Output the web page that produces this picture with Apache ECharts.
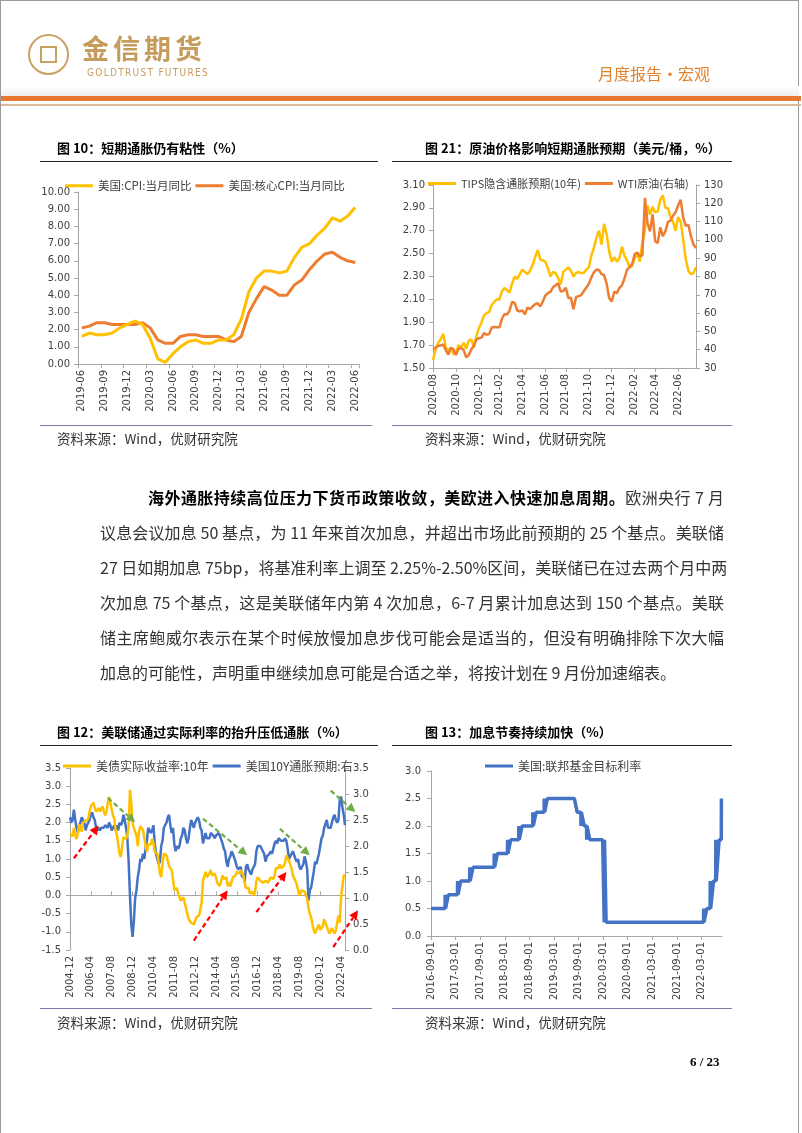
<!DOCTYPE html>
<html lang="zh-CN">
<head>
<meta charset="utf-8">
<script src="https://cdn.jsdelivr.net/npm/echarts@6/dist/echarts.min.js"></script>
<style>
html,body{margin:0;padding:0;background:#fff;}
body{width:802px;height:1133px;position:relative;overflow:hidden;font-family:"Noto Sans CJK SC",sans-serif;}
#chart{position:absolute;left:0;top:0;width:802px;height:1133px;}
.abs{position:absolute;white-space:nowrap;}
.title{font-size:13px;font-weight:bold;color:#000;line-height:18px;}
.src{font-size:13.5px;color:#333;line-height:18px;}
.hl{position:absolute;height:1px;background:#222;}
.sep{position:absolute;height:1px;background:#7a7aa8;}
.para{position:absolute;left:100px;width:624px;font-size:16px;line-height:22px;color:#333;text-align:justify;text-align-last:justify;white-space:nowrap;}
</style>
</head>
<body>
<div id="chart"></div>

<!-- page frame -->
<div class="abs" style="left:0;top:0;width:799px;height:1133px;border-left:1px solid #9a9a9a;border-right:1px solid #9a9a9a;border-top:1px solid #9a9a9a;box-sizing:border-box;"></div>

<!-- header -->
<div class="abs" style="left:28px;top:34px;width:41px;height:41px;border:2.5px solid #C9A260;border-radius:50%;box-sizing:border-box;"></div>
<div class="abs" style="left:40px;top:46px;width:17px;height:17px;border:2px solid #C9A260;box-sizing:border-box;"></div>
<div class="abs" style="left:82px;top:32px;font-size:27px;font-weight:bold;color:#C69C5D;letter-spacing:4px;line-height:32px;">金信期货</div>
<div class="abs" style="left:87px;top:67px;font-family:'DejaVu Sans Condensed','DejaVu Sans';font-size:10px;color:#C69C5D;letter-spacing:1.3px;line-height:12px;">GOLDTRUST FUTURES</div>
<div class="abs" style="left:598px;top:63px;font-size:16px;color:#E3822E;line-height:20px;">月度报告·宏观</div>
<div class="abs" style="left:1px;top:86px;width:798px;height:10px;background:linear-gradient(#ffffff,#eeeeee);"></div>
<div class="abs" style="left:1px;top:96px;width:800px;height:5px;background:#E9782F;"></div>
<div class="abs" style="left:1px;top:104px;width:800px;height:1.5px;background:#DDB996;"></div>

<!-- figure titles row 1 -->
<div class="abs title" style="left:57px;top:139px;">图 10：短期通胀仍有粘性（%）</div>
<div class="hl" style="left:40px;top:161px;width:338px;"></div>
<div class="abs title" style="left:425px;top:139px;">图 21：原油价格影响短期通胀预期（美元/桶，%）</div>
<div class="hl" style="left:392px;top:161px;width:340px;"></div>
<div class="sep" style="left:40px;top:425px;width:332px;"></div>
<div class="abs src" style="left:57px;top:429px;">资料来源：Wind，优财研究院</div>
<div class="sep" style="left:392px;top:425px;width:340px;"></div>
<div class="abs src" style="left:425px;top:429px;">资料来源：Wind，优财研究院</div>

<!-- paragraph -->
<div class="para" style="left:148px;width:576px;top:486px;"><b style="color:#000">海外通胀持续高位压力下货币政策收敛，美欧进入快速加息周期。</b>欧洲央行 7 月</div>
<div class="para" style="top:521px;">议息会议加息 50 基点，为 11 年来首次加息，并超出市场此前预期的 25 个基点。美联储</div>
<div class="para" style="top:556px;">27 日如期加息 75bp，将基准利率上调至 2.25%-2.50%区间，美联储已在过去两个月中两</div>
<div class="para" style="top:591px;">次加息 75 个基点，这是美联储年内第 4 次加息，6-7 月累计加息达到 150 个基点。美联</div>
<div class="para" style="top:626px;">储主席鲍威尔表示在某个时候放慢加息步伐可能会是适当的，但没有明确排除下次大幅</div>
<div class="para" style="top:661px;text-align:left;text-align-last:left;">加息的可能性，声明重申继续加息可能是合适之举，将按计划在 9 月份加速缩表。</div>

<!-- figure titles row 2 -->
<div class="abs title" style="left:57px;top:723px;">图 12：美联储通过实际利率的抬升压低通胀（%）</div>
<div class="hl" style="left:40px;top:745px;width:338px;"></div>
<div class="abs title" style="left:425px;top:723px;">图 13：加息节奏持续加快（%）</div>
<div class="hl" style="left:392px;top:745px;width:340px;"></div>
<div class="sep" style="left:40px;top:1008px;width:332px;"></div>
<div class="abs src" style="left:57px;top:1013px;">资料来源：Wind，优财研究院</div>
<div class="sep" style="left:392px;top:1008px;width:340px;"></div>
<div class="abs src" style="left:425px;top:1013px;">资料来源：Wind，优财研究院</div>

<div class="abs" style="left:690px;top:1054px;font-family:'Liberation Serif',serif;font-weight:bold;font-size:13px;color:#000;">6 / 23</div>

<script>
// ---------------- Figure 10 data ----------------
const cpiMonths = ['2019-06','2019-07','2019-08','2019-09','2019-10','2019-11','2019-12',
  '2020-01','2020-02','2020-03','2020-04','2020-05','2020-06','2020-07','2020-08','2020-09','2020-10','2020-11','2020-12',
  '2021-01','2021-02','2021-03','2021-04','2021-05','2021-06','2021-07','2021-08','2021-09','2021-10','2021-11','2021-12',
  '2022-01','2022-02','2022-03','2022-04','2022-05','2022-06'];
const cpiHeadline = [1.6,1.8,1.7,1.7,1.8,2.1,2.3,
  2.5,2.3,1.5,0.3,0.1,0.6,1.0,1.3,1.4,1.2,1.2,1.4,
  1.4,1.7,2.6,4.2,5.0,5.4,5.4,5.3,5.4,6.2,6.8,7.0,
  7.5,7.9,8.5,8.3,8.6,9.1];
const cpiCore = [2.1,2.2,2.4,2.4,2.3,2.3,2.3,
  2.3,2.4,2.1,1.4,1.2,1.2,1.6,1.7,1.7,1.6,1.6,1.6,
  1.4,1.3,1.6,3.0,3.8,4.5,4.3,4.0,4.0,4.6,4.9,5.5,
  6.0,6.4,6.5,6.2,6.0,5.9];

// ---------------- Figure 21 data (weekly) ----------------
const oilWeekStart = '2020-08-03';
const tipsBreakeven = [
  1.57,1.66,1.72,1.75,1.80, 1.68,1.65,1.68,1.62, 1.63,1.70,1.68,1.72,1.67, 1.74,1.75,1.68,1.78, 1.85,1.90,1.96,1.98,
  1.99,2.05,2.08,2.10,2.10, 2.17,2.20,2.18,2.16, 2.24,2.30,2.28,2.32, 2.36,2.34,2.32,2.35,2.40,
  2.47,2.53,2.45,2.44, 2.43,2.37,2.30,2.34, 2.33,2.29,2.23,2.34,2.36, 2.38,2.35,2.30,2.33,
  2.34,2.33,2.33,2.36, 2.38,2.48,2.55,2.64,2.70, 2.58,2.76,2.67,2.52, 2.43,2.47,2.43,2.46,2.56,
  2.48,2.44,2.38,2.39, 2.46,2.50,2.43,2.60, 2.70,2.92,2.84,2.91, 2.86,2.87,2.97,3.01,2.90,
  2.90,2.82,2.78,2.70, 2.82,2.78,2.62,2.45, 2.35,2.32,2.33,2.38];
const wtiPrice = [
  40.3,41.2,42.0,42.3,42.9, 39.8,37.3,41.1,40.2, 37.1,40.6,40.9,39.9,35.8, 37.1,40.1,42.2,45.5, 46.3,46.6,49.1,48.2,
  48.5,52.2,52.4,52.3,52.2, 56.9,59.5,59.2,61.5, 66.1,65.6,61.4,60.9, 61.5,59.3,63.1,62.1,63.6,
  64.9,65.4,63.6,66.3, 69.6,70.9,71.6,74.1, 75.2,76.4,71.8,72.1,73.9, 68.3,68.4,62.1,68.7,
  69.3,69.7,71.9,73.9, 75.9,79.4,82.3,83.8,83.6, 81.3,80.8,76.1,68.2, 66.3,71.7,70.9,73.8,75.2,
  78.9,83.8,85.1,86.8, 92.3,93.1,91.1,91.6, 123.0,109.3,104.7,113.9, 99.3,98.3,106.9,102.1,104.7,
  109.8,110.5,113.2,115.1, 118.9,122.0,112.0,107.6, 108.4,102.0,97.6,95.5];

// ---------------- Figure 12 data (monthly from 2004-12) ----------------
const ryStartMonth = '2004-12';
const realYield10y = [1.70,
  1.68,1.62,1.85,1.65,1.55,1.70,1.95,1.85,1.75,2.00,2.05,2.05,
  2.00,2.10,2.30,2.45,2.50,2.55,2.40,2.30,2.35,2.40,2.30,2.35,
  2.45,2.30,2.20,2.30,2.55,2.70,2.55,2.35,2.20,2.10,1.80,1.65,
  1.40,1.15,1.05,1.35,1.60,1.55,1.55,1.65,1.90,2.90,2.55,2.00,
  1.85,1.85,1.65,1.35,1.75,1.90,1.85,1.80,1.60,1.35,1.20,1.40,
  1.35,1.40,1.55,1.45,1.20,1.25,1.15,0.90,0.60,0.50,0.85,1.15,
  1.20,1.10,0.95,0.80,0.75,0.70,0.45,0.15,0.10,0.20,0.05,-0.05,
  -0.15,-0.20,-0.05,-0.20,-0.35,-0.50,-0.65,-0.70,-0.75,-0.70,-0.80,-0.70,
  -0.60,-0.60,-0.55,-0.60,-0.20,0.40,0.45,0.65,0.50,0.45,0.60,0.70,
  0.55,0.50,0.60,0.50,0.35,0.35,0.25,0.25,0.55,0.45,0.40,0.50,
  0.25,0.35,0.25,0.30,0.50,0.55,0.55,0.65,0.65,0.60,0.70,0.75,
  0.55,0.35,0.20,0.20,0.20,0.05,0.05,0.10,0.00,0.10,0.40,0.50,
  0.45,0.40,0.45,0.35,0.40,0.40,0.45,0.35,0.35,0.50,0.50,0.45,
  0.55,0.75,0.75,0.75,0.85,0.75,0.75,0.80,0.90,1.10,1.10,0.95,
  0.90,0.75,0.55,0.60,0.40,0.30,0.25,0.00,0.05,0.15,0.15,0.10,
  0.05,-0.10,-0.35,-0.50,-0.60,-0.80,-0.95,-1.05,-0.95,-0.90,-0.80,-0.95,
  -1.00,-0.85,-0.65,-0.70,-0.85,-0.85,-1.05,-1.05,-0.90,-0.95,-1.05,-0.95,
  -0.75,-0.55,-0.75,-0.05,0.25,0.55,0.55];
const breakeven10y = [2.55,
  2.45,2.50,2.70,2.50,2.35,2.25,2.40,2.45,2.55,2.55,2.45,2.30,
  2.40,2.45,2.50,2.60,2.65,2.55,2.50,2.35,2.30,2.35,2.30,2.35,
  2.35,2.35,2.40,2.40,2.35,2.45,2.40,2.30,2.35,2.40,2.30,2.40,
  2.30,2.45,2.40,2.45,2.60,2.50,2.35,2.15,1.70,1.05,0.50,0.25,
  0.55,1.00,1.15,1.40,1.55,1.75,1.70,1.85,1.75,1.95,2.10,2.35,
  2.35,2.25,2.30,2.40,2.05,1.85,1.75,1.65,1.70,2.00,2.10,2.35,
  2.35,2.45,2.55,2.60,2.40,2.25,2.35,2.05,1.90,2.00,1.95,2.00,
  2.15,2.20,2.35,2.30,2.15,2.05,2.15,2.35,2.50,2.50,2.35,2.45,
  2.50,2.55,2.50,2.35,2.30,2.05,2.15,2.25,2.15,2.15,2.15,2.25,
  2.25,2.20,2.15,2.20,2.20,2.25,2.20,2.20,2.05,1.95,1.90,1.70,
  1.60,1.75,1.80,1.90,1.85,1.85,1.70,1.60,1.55,1.55,1.60,1.40,
  1.45,1.30,1.60,1.65,1.55,1.50,1.45,1.55,1.55,1.65,1.90,2.00,
  2.00,2.00,2.00,1.90,1.85,1.70,1.80,1.80,1.85,1.90,1.85,1.95,
  2.05,2.10,2.05,2.15,2.15,2.10,2.10,2.10,2.15,2.10,1.95,1.75,
  1.75,1.85,1.90,1.90,1.75,1.70,1.75,1.60,1.55,1.60,1.65,1.80,
  1.70,1.55,0.95,1.15,1.20,1.35,1.50,1.70,1.65,1.75,1.85,2.00,
  2.15,2.20,2.35,2.35,2.50,2.35,2.35,2.35,2.35,2.55,2.60,2.50,
  2.45,2.50,2.90,2.95,2.75,2.60,2.40];
// annotation arrows: [from month, from value(left axis), to month, to value]
const redArrows = [['2005-03',1.02,'2006-10',1.92],['2012-11',-1.24,'2015-01',0.14],
                   ['2016-11',-0.46,'2018-10',0.64],['2021-10',-1.42,'2023-05',-0.41]];
const greenArrows = [['2007-05',2.68,'2009-02',2.01],['2013-06',2.11,'2016-04',1.10],
                     ['2018-05',1.83,'2020-04',1.10],['2021-08',2.88,'2023-03',2.29]];

// ---------------- Figure 13 data ----------------
const fedTickLabels = ['2016-09-01','2017-03-01','2017-09-01','2018-03-01','2018-09-01','2019-03-01',
  '2019-09-01','2020-03-01','2020-09-01','2021-03-01','2021-09-01','2022-03-01'];
const fedRate = [
  ['2016-09-01',0.5],
  ['2016-12-14',0.5],['2016-12-15',0.75],['2016-12-18',0.5],['2017-01-08',0.75],
  ['2017-03-15',0.75],['2017-03-16',1.0],['2017-03-19',0.75],['2017-04-09',1.0],
  ['2017-06-14',1.0],['2017-06-15',1.25],['2017-06-18',1.0],['2017-07-09',1.25],
  ['2017-12-13',1.25],['2017-12-14',1.5],['2017-12-17',1.25],['2018-01-07',1.5],
  ['2018-03-21',1.5],['2018-03-22',1.75],['2018-03-25',1.5],['2018-04-15',1.75],
  ['2018-06-13',1.75],['2018-06-14',2.0],['2018-06-17',1.75],['2018-07-08',2.0],
  ['2018-09-26',2.0],['2018-09-27',2.25],['2018-09-30',2.0],['2018-10-21',2.25],
  ['2018-12-19',2.25],['2018-12-20',2.5],['2018-12-23',2.25],['2019-01-13',2.5],
  ['2019-07-31',2.5],['2019-08-21',2.25],
  ['2019-09-18',2.25],['2019-09-19',2.0],['2019-09-22',2.25],['2019-10-13',2.0],
  ['2019-10-30',2.0],['2019-10-31',1.75],['2019-11-03',2.0],['2019-11-24',1.75],
  ['2020-02-28',1.75],['2020-03-09',0.25],['2020-03-11',1.75],['2020-03-23',0.25],
  ['2022-03-16',0.25],['2022-03-17',0.5],['2022-03-20',0.25],['2022-04-10',0.5],
  ['2022-05-04',0.5],['2022-05-05',1.0],['2022-05-08',0.5],['2022-05-29',1.0],
  ['2022-06-15',1.0],['2022-06-16',1.75],['2022-06-19',1.0],['2022-07-10',1.75],
  ['2022-07-26',1.75],['2022-07-27',2.5]];

// ---------------- helpers ----------------
function pad(n){return (n<10?'0':'')+n;}
function weekDates(start, n){
  const [y,m,d] = start.split('-').map(Number); const t0 = Date.UTC(y,m-1,d); const out=[];
  for(let i=0;i<n;i++){const dt=new Date(t0+i*7*864e5); out.push(dt.getUTCFullYear()+'-'+pad(dt.getUTCMonth()+1)+'-'+pad(dt.getUTCDate()));}
  return out;
}
function monthsFrom(start, n){
  let [y,m] = start.split('-').map(Number); const out=[];
  for(let i=0;i<n;i++){out.push(y+'-'+pad(m)); m++; if(m>12){m=1;y++;}}
  return out;
}
function monthIndex(s, start){const [y,m]=s.split('-').map(Number); const [y0,m0]=start.split('-').map(Number); return (y-y0)*12+(m-m0);}
function fedOffset(s){const [y,m,d]=s.split('-').map(Number); return (y-2016)*12+(m-9)+(d-1)/30.44;}

const oilWeeks = weekDates(oilWeekStart, tipsBreakeven.length);
const ryMonths = monthsFrom(ryStartMonth, realYield10y.length);
const fedTickVals = fedTickLabels.map((_,i)=>i*6);

const GRAY = '#A6A6A6';
const LBL = {fontFamily:'DejaVu Sans', fontSize:10, color:'#404040'};
const lineAx = {show:true, onZero:false, lineStyle:{color:GRAY, width:1}};
const tickOut = {show:true, length:4, lineStyle:{color:GRAY}};
const legendText = {fontFamily:'Noto Sans CJK SC', fontSize:12, color:'#404040'};
function leg(data, left, top, gap, fs){
  return {data, left, top, padding:0, itemGap:gap, itemWidth:28, itemHeight:3, icon:'rect',
    selectedMode:false, width:400, textStyle:Object.assign({}, legendText, {fontSize:fs})};
}
function valAxis(grid, pos, min, max, interval, dec, margin){
  return {type:'value', gridIndex:grid, position:pos, min, max, interval,
    axisLine:{show:true, onZero:false, lineStyle:{color:GRAY, width:1}}, axisTick:tickOut,
    splitLine:{show:false},
    axisLabel:Object.assign({}, LBL, {margin, formatter:v=>v.toFixed(dec)})};
}

const chart = echarts.init(document.getElementById('chart'), null, {renderer:'canvas'});
const option = {
  animation:false,
  backgroundColor:'transparent',
  grid:[
    {left:78, right:443, top:192, bottom:769, containLabel:false, outerBoundsMode:'none'},
    {left:433, right:106, top:185, bottom:765, containLabel:false, outerBoundsMode:'none'},
    {left:70, right:457, top:768, bottom:183, containLabel:false, outerBoundsMode:'none'},
    {left:431, right:80, top:771, bottom:197, containLabel:false, outerBoundsMode:'none'}
  ],
  legend:[
    leg(['美国:CPI:当月同比','美国:核心CPI:当月同比'], 65, 180, 4, 11.5),
    leg(['TIPS隐含通胀预期(10年)','WTI原油(右轴)'], 428, 178, 4, 11),
    leg(['美债实际收益率:10年','美国10Y通胀预期:右'], 63, 760, 4, 12),
    leg(['美国:联邦基金目标利率'], 485, 760, 5, 12)
  ],
  xAxis:[
    {type:'category', gridIndex:0, data:cpiMonths, boundaryGap:true, axisLine:lineAx,
     axisTick:{show:true, interval:2, length:4, lineStyle:{color:GRAY}},
     axisLabel:Object.assign({}, LBL, {interval:2, rotate:90, margin:6})},
    {type:'category', gridIndex:1, data:oilWeeks, boundaryGap:false, axisLine:lineAx,
     axisTick:{show:true, length:4, lineStyle:{color:GRAY}, interval:(i,v)=>{const m=+v.slice(5,7),d=+v.slice(8,10);return m%2===0&&d<=7;}},
     axisLabel:Object.assign({}, LBL, {rotate:90, margin:6,
       interval:(i,v)=>{const m=+v.slice(5,7),d=+v.slice(8,10);return m%2===0&&d<=7;},
       formatter:v=>v.slice(0,7)})},
    {type:'category', gridIndex:2, data:ryMonths, boundaryGap:false,
     axisLine:{show:false, onZero:false}, axisTick:{show:false},
     axisLabel:Object.assign({}, LBL, {interval:15, rotate:90, margin:6})},
    {type:'category', gridIndex:2, data:ryMonths, boundaryGap:false,
     axisLine:{show:true, onZero:true, onZeroAxisIndex:3, lineStyle:{color:GRAY, width:1}},
     axisTick:{show:true, interval:15, length:4, lineStyle:{color:GRAY}},
     axisLabel:{show:false}},
    {type:'value', gridIndex:3, min:0, max:71, interval:6, axisLine:lineAx, splitLine:{show:false},
     axisTick:{show:true, length:4, lineStyle:{color:GRAY}, customValues:fedTickVals},
     axisLabel:Object.assign({}, LBL, {rotate:90, margin:6, customValues:fedTickVals,
       formatter:v=>{const k=Math.round(v/6); return (Math.abs(v-k*6)<1e-6 && fedTickLabels[k])?fedTickLabels[k]:'';}})}
  ],
  yAxis:[
    valAxis(0,'left',0,10,1,2,8),
    valAxis(1,'left',1.5,3.1,0.2,2,8),
    valAxis(1,'right',30,130,10,0,8),
    valAxis(2,'left',-1.5,3.5,0.5,1,9),
    valAxis(2,'right',0,3.5,0.5,1,8),
    valAxis(3,'left',0,3,0.5,1,10)
  ],
  series:[
    {name:'美国:CPI:当月同比', type:'line', xAxisIndex:0, yAxisIndex:0, data:cpiHeadline, symbol:'none',
     color:'#FFC000', lineStyle:{color:'#FFC000', width:3}, z:3},
    {name:'美国:核心CPI:当月同比', type:'line', xAxisIndex:0, yAxisIndex:0, data:cpiCore, symbol:'none',
     color:'#ED7D31', lineStyle:{color:'#ED7D31', width:3}, z:2},
    {name:'TIPS隐含通胀预期(10年)', type:'line', xAxisIndex:1, yAxisIndex:1, data:tipsBreakeven, symbol:'none',
     color:'#FFC000', lineStyle:{color:'#FFC000', width:2.5}, z:2},
    {name:'WTI原油(右轴)', type:'line', xAxisIndex:1, yAxisIndex:2, data:wtiPrice, symbol:'none',
     color:'#ED7D31', lineStyle:{color:'#ED7D31', width:2.5}, z:3},
    {name:'美国10Y通胀预期:右', type:'line', xAxisIndex:2, yAxisIndex:4, data:breakeven10y, symbol:'none',
     color:'#4472C4', lineStyle:{color:'#4472C4', width:2.5}, z:2},
    {name:'美债实际收益率:10年', type:'line', xAxisIndex:2, yAxisIndex:3, data:realYield10y, symbol:'none',
     color:'#FFC000', lineStyle:{color:'#FFC000', width:2.5}, z:3},
    {name:'美国:联邦基金目标利率', type:'line', xAxisIndex:4, yAxisIndex:5,
     data:fedRate.map(d=>[fedOffset(d[0]), d[1]]), symbol:'none',
     color:'#4472C4', lineStyle:{color:'#4472C4', width:3.5}, z:2}
  ]
};
chart.setOption(option);

function arrowGraphics(list, color){
  const out=[];
  list.forEach(([m1,v1,m2,v2])=>{
    const p1 = chart.convertToPixel({xAxisIndex:2, yAxisIndex:3}, [monthIndex(m1, ryStartMonth), v1]);
    const p2 = chart.convertToPixel({xAxisIndex:2, yAxisIndex:3}, [monthIndex(m2, ryStartMonth), v2]);
    const a = Math.atan2(p2[1]-p1[1], p2[0]-p1[0]);
    const L=9, W=4.5;
    const bx = p2[0]-L*Math.cos(a), by = p2[1]-L*Math.sin(a);
    out.push({type:'line', z:100, silent:true, shape:{x1:p1[0], y1:p1[1], x2:bx, y2:by},
      style:{stroke:color, lineWidth:2.2, lineDash:[5,3]}});
    out.push({type:'polygon', z:100, silent:true,
      shape:{points:[[p2[0],p2[1]],[bx+W*Math.sin(a), by-W*Math.cos(a)],[bx-W*Math.sin(a), by+W*Math.cos(a)]]},
      style:{fill:color}});
  });
  return out;
}
chart.setOption({graphic: arrowGraphics(redArrows, '#FF0000').concat(arrowGraphics(greenArrows, '#70AD47'))});
</script>
</body>
</html>
